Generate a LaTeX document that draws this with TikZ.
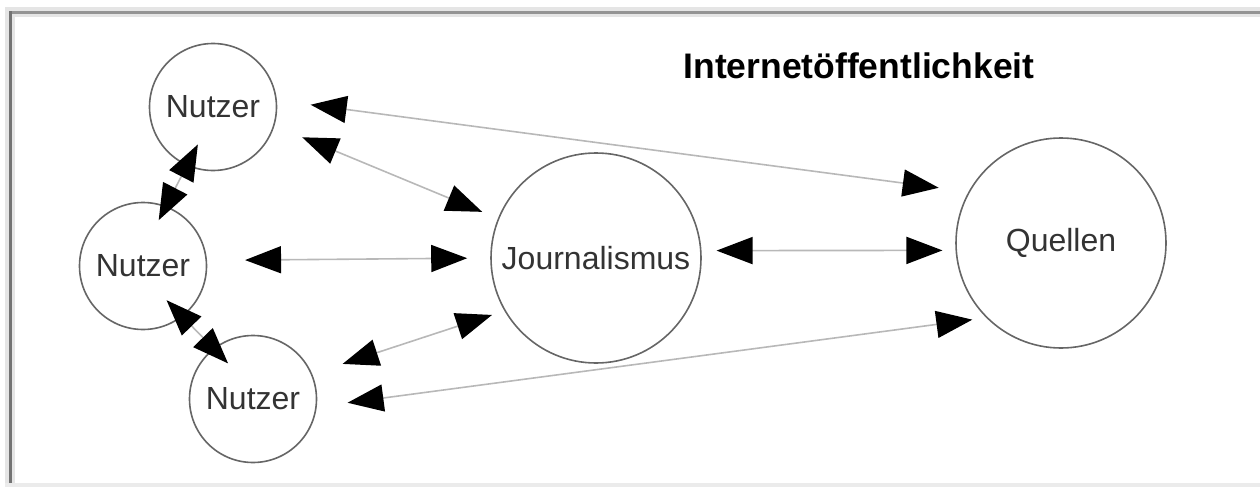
\documentclass[tikz,border=0pt]{standalone}
\usepackage{fontspec}
\setmainfont{Liberation Sans}
\usetikzlibrary{arrows.meta}

\tikzset{
  kreis/.style={circle, draw=black!60, line width=1.6pt, inner sep=0pt, text=black!80, font=\fontsize{32}{38}\selectfont},
  nutzer/.style={kreis, minimum size=127pt},
  gross/.style={kreis, minimum size=210pt},
  titel/.style={font=\fontsize{35.5}{42}\selectfont\bfseries, inner sep=0pt},
  spitze/.style={Triangle[length=36pt, width=27pt, color=black]},
  pfeil/.style={draw=black!28, line width=1.6pt, {Triangle[length=36pt, width=27pt, color=black]}-{Triangle[length=36pt, width=27pt, color=black]}}
}

\begin{document}
\begin{tikzpicture}[x=1pt, y=-1pt]
  \useasboundingbox (0,0) rectangle (1260,487);
  % Rahmen
  \fill[black!10] (5,7) rectangle (1260,17);
  \fill[black!10] (5,7) rectangle (15,483);
  \fill[black!8] (5,483) rectangle (1260,487);
  \fill[black!42] (9,11) rectangle (1260,14);
  \fill[black!55] (9,11) rectangle (12,483);

  \node[nutzer] (n1) at (213,107) {Nutzer};
  \node[nutzer] (n2) at (143,266) {Nutzer};
  \node[nutzer] (n3) at (253,399) {Nutzer};
  \node[gross] (j) at (596,258) {Journalismus};
  \node[gross] (q) at (1061,243) {Quellen};
  \node[titel, anchor=base] (t) at (859,78) {Internetöffentlichkeit};

  \draw[pfeil, shorten <=34pt, shorten >=30pt] (n1.6) -- (q.151);
  \draw[pfeil, shorten <=30pt, shorten >=17pt] (n1.-17) -- (j.158);
  \draw[pfeil, shorten <=38pt, shorten >=23pt] (n2.5) -- (j.180);
  \draw[pfeil, shorten <=15pt, shorten >=13pt] (j.4) -- (q.184);
  \draw[pfeil, shorten <=32pt, shorten >=13pt] (n3.23) -- (j.210);
  \draw[pfeil, shorten <=31pt, shorten >=14pt] (n3.-7) -- (q.225);
  \draw[pfeil, shorten <=-24pt, shorten >=-16pt] (n1.-114) -- (n2.69);
  \draw[pfeil, shorten <=-23pt, shorten >=-21pt] (n2.-52) -- (n3.128);
\end{tikzpicture}
\end{document}
